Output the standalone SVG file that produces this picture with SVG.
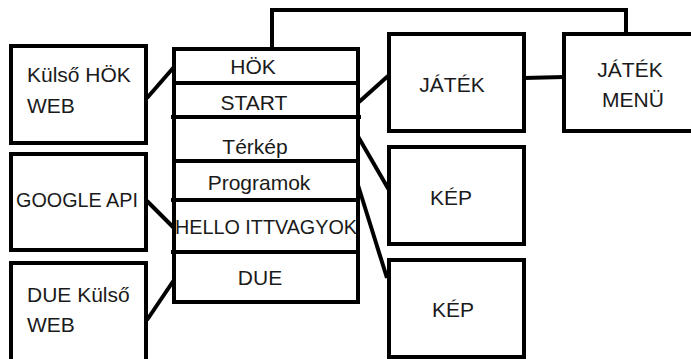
<svg xmlns="http://www.w3.org/2000/svg" width="691" height="359" viewBox="0 0 691 359">
<style>
.box{fill:#fff;stroke:#000;stroke-width:4}
.ln{fill:none;stroke:#000;stroke-width:4}
text{font-family:"Liberation Sans",Arial,sans-serif;font-size:21px;fill:#1a1a1a}
.c{text-anchor:middle}
</style>
<rect width="691" height="359" fill="#fff"/>
<g id="connectors">
<polyline class="ln" points="272,48 272,10 626,10 626,33"/>
<line class="ln" x1="147" y1="98" x2="174" y2="67"/>
<line class="ln" x1="147" y1="201" x2="174" y2="228"/>
<line class="ln" x1="147" y1="320" x2="174" y2="280"/>
<line class="ln" x1="359" y1="102" x2="388" y2="76"/>
<line class="ln" x1="356" y1="133" x2="389" y2="190"/>
<line class="ln" x1="357" y1="182" x2="387" y2="278"/>
<line class="ln" x1="524" y1="78" x2="564" y2="77"/>
</g>
<g id="kulso-hok-web">
<rect class="box" x="11" y="46" width="135" height="97"/>
<text x="27" y="82">Külső HÖK</text>
<text x="27" y="113">WEB</text>
</g>
<g id="google-api">
<rect class="box" x="11" y="154" width="135" height="96"/>
<text x="16" y="207" textLength="122" lengthAdjust="spacingAndGlyphs">GOOGLE API</text>
</g>
<g id="due-kulso-web">
<rect class="box" x="11" y="263" width="135" height="100"/>
<text x="27" y="302">DUE Külső</text>
<text x="27" y="332">WEB</text>
</g>
<g id="menu">
<rect class="box" x="174" y="49" width="184" height="253"/>
<line class="ln" x1="174" y1="83" x2="358" y2="83"/>
<line class="ln" x1="171" y1="117" x2="361" y2="117"/>
<line class="ln" x1="174" y1="161" x2="358" y2="161"/>
<line class="ln" x1="171" y1="200" x2="358" y2="200"/>
<line class="ln" x1="171" y1="252" x2="358" y2="252"/>
<text class="c" x="253" y="74">HÖK</text>
<text class="c" x="254" y="110">START</text>
<text class="c" x="255" y="154">Térkép</text>
<text class="c" x="259" y="190">Programok</text>
<text class="c" x="266" y="234" textLength="182" lengthAdjust="spacingAndGlyphs">HELLO ITTVAGYOK</text>
<text class="c" x="260" y="285">DUE</text>
</g>
<g id="jatek">
<rect class="box" x="389" y="34" width="135" height="97"/>
<text class="c" x="452" y="92">JÁTÉK</text>
</g>
<g id="jatek-menu">
<rect class="box" x="564" y="34" width="135" height="97"/>
<text class="c" x="630" y="77">JÁTÉK</text>
<text class="c" x="633" y="107">MENÜ</text>
</g>
<g id="kep1">
<rect class="box" x="389" y="147" width="135" height="97"/>
<text class="c" x="451" y="205">KÉP</text>
</g>
<g id="kep2">
<rect class="box" x="389" y="260" width="135" height="97"/>
<text class="c" x="453" y="317">KÉP</text>
</g>
</svg>
